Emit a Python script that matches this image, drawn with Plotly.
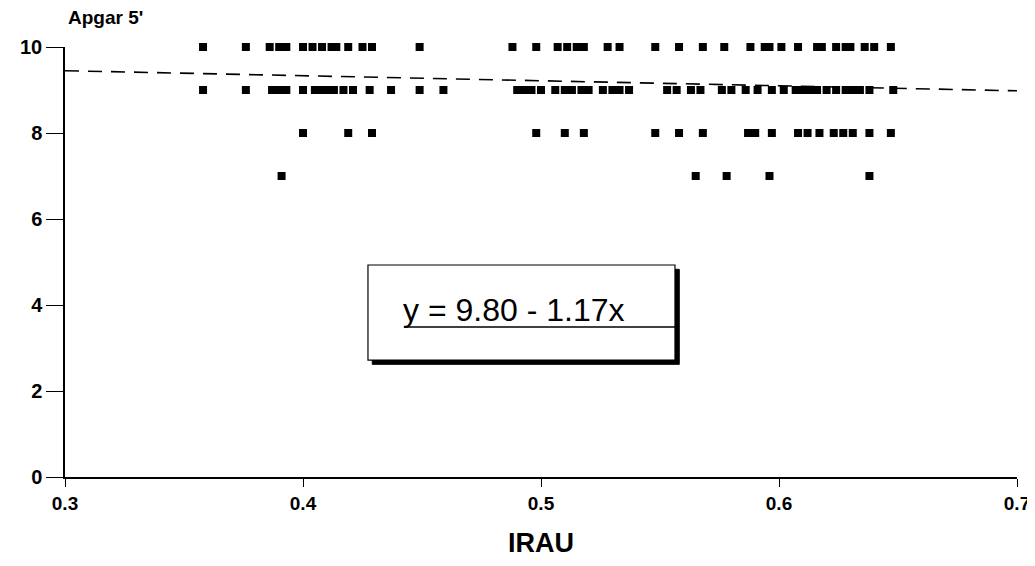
import plotly.graph_objects as go

# IRAU values for each Apgar 5' score
irau_apgar10 = [0.358, 0.376, 0.386, 0.390, 0.393, 0.400, 0.404, 0.408, 0.412, 0.414,
                0.419, 0.425, 0.429, 0.449,
                0.488, 0.498, 0.507, 0.511, 0.515, 0.518, 0.528, 0.533, 0.548, 0.558,
                0.568, 0.577, 0.588, 0.594, 0.596, 0.601, 0.608, 0.616, 0.618, 0.624,
                0.628, 0.630, 0.636, 0.640, 0.647]
irau_apgar9 = [0.358, 0.376, 0.387, 0.390, 0.393, 0.400, 0.405, 0.407, 0.410, 0.413,
               0.417, 0.421, 0.428, 0.437, 0.449, 0.459,
               0.490, 0.493, 0.496, 0.500, 0.506, 0.510, 0.513, 0.517, 0.520, 0.526,
               0.530, 0.533, 0.537, 0.553, 0.557, 0.563, 0.567, 0.576, 0.580, 0.586,
               0.591, 0.597, 0.602, 0.607, 0.610, 0.613, 0.616, 0.620, 0.624, 0.628,
               0.631, 0.634, 0.638, 0.648]
irau_apgar8 = [0.400, 0.419, 0.429, 0.498, 0.510, 0.518, 0.548, 0.558, 0.568,
               0.587, 0.590, 0.597, 0.608, 0.612, 0.617, 0.623, 0.627, 0.631, 0.638, 0.647]
irau_apgar7 = [0.391, 0.565, 0.578, 0.596, 0.638]

apgar_scores = [10, 9, 8, 7]
groups = [irau_apgar10, irau_apgar9, irau_apgar8, irau_apgar7]

# regression y = 9.80 - 1.17x
intercept = 9.80
slope = -1.17
fit_x = [0.3, 0.7]

x_ticks = [0.3, 0.4, 0.5, 0.6, 0.7]
y_ticks = [0, 2, 4, 6, 8, 10]

xs, ys = [], []
for score, g in zip(apgar_scores, groups):
    xs += g
    ys += [score] * len(g)

FONT = "Liberation Sans, Arial, Helvetica, sans-serif"

fig = go.Figure()
fig.add_trace(go.Scatter(
    x=fit_x, y=[intercept + slope * v for v in fit_x], mode="lines",
    line=dict(color="black", width=1.6, dash="14px,9px"), cliponaxis=False,
    hoverinfo="skip", showlegend=False))
fig.add_trace(go.Scatter(
    x=xs, y=ys, mode="markers",
    marker=dict(symbol="square", size=8, color="black"),
    cliponaxis=False, showlegend=False))

x_tick_font = dict(family=FONT, size=19, color="black")
y_tick_font = dict(family=FONT, size=20, color="black")

# equation box with shadow
box_x0, box_x1 = 0.4273, 0.5563
box_y0, box_y1 = 2.72, 4.93
shadow_dx, shadow_dy = 0.0018, -0.10
fig.add_shape(type="rect", x0=box_x0 + shadow_dx, x1=box_x1 + shadow_dx,
              y0=box_y0 + shadow_dy, y1=box_y1 + shadow_dy,
              fillcolor="black", line=dict(color="black", width=1), layer="below")
fig.add_shape(type="rect", x0=box_x0, x1=box_x1, y0=box_y0, y1=box_y1,
              fillcolor="white", line=dict(color="black", width=1.2), layer="below")
fig.add_shape(type="line", x0=0.4424, x1=box_x1, y0=3.49, y1=3.49,
              line=dict(color="black", width=1.5))
fig.add_annotation(x=0.4410, y=3.88, xref="x", yref="y", xanchor="left", yanchor="middle",
                   text="y = 9.80 - 1.17x", showarrow=False,
                   font=dict(family=FONT, size=32, color="black"))

fig.add_annotation(x=0, y=1, xref="paper", yref="paper", xanchor="left", yanchor="bottom",
                   xshift=1, yshift=17, text="<b>Apgar 5'</b>", showarrow=False,
                   font=dict(family=FONT, size=19, color="black"))

# the page body adds an 8px margin all round, so the figure is smaller and margins compensate
fig.update_layout(
    width=1027, height=550,
    margin=dict(l=57, r=18, t=39, b=81),
    plot_bgcolor="white", paper_bgcolor="white",
    xaxis=dict(range=[0.3, 0.7], tickvals=x_ticks, ticktext=[f"<b>{v}</b>" for v in x_ticks],
               showgrid=False, zeroline=False, showline=True, linecolor="black", linewidth=1.5,
               ticks="outside", ticklen=8, tickcolor="black", tickwidth=1, tickfont=x_tick_font,
               automargin=False,
               title=dict(text="<b>IRAU</b>", font=dict(family=FONT, size=27, color="black"),
                          standoff=27)),
    yaxis=dict(range=[0, 10], tickvals=y_ticks, ticktext=[f"<b>{v}</b>" for v in y_ticks],
               showgrid=False, zeroline=False, showline=True, linecolor="black", linewidth=1.5,
               ticks="outside", ticklen=17, tickcolor="black", tickwidth=1, tickfont=y_tick_font,
               automargin=False),
)

fig.write_html("out.html")
